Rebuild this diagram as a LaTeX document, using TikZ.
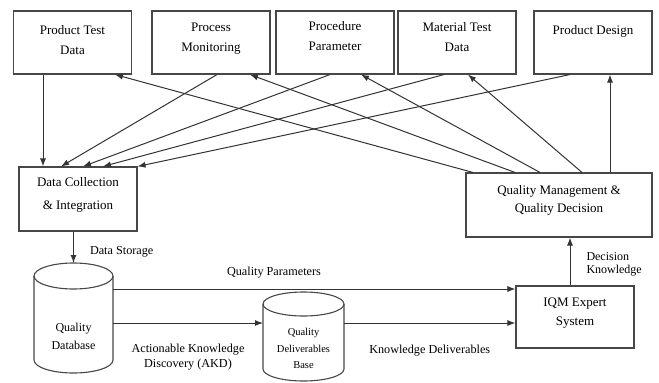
\documentclass[tikz,border=0pt]{standalone}
\usepackage{fontspec}
\setmainfont{Liberation Serif}
\usetikzlibrary{arrows.meta, positioning, calc}
\definecolor{LineGray}{rgb}{0.2, 0.2, 0.2}
\definecolor{BoxGray}{rgb}{0.28, 0.28, 0.28}

\begin{document}
\begin{tikzpicture}[x=1pt, y=-1pt, font=\fontsize{13}{20}\selectfont,
    caja/.style={draw=BoxGray, line width=1.1pt, minimum width=118pt, minimum height=63pt, inner sep=0pt},
    rotulo/.style={anchor=north, align=center, inner sep=0pt, yshift=-12pt},
    hueco/.style={inner sep=0pt, outer sep=0pt},
    borde/.style={draw=BoxGray, line width=1.1pt},
    flecha/.style={draw=LineGray, line width=1pt, -{Latex[length=8pt, width=6pt]}},
    etiqueta/.style={font=\fontsize{12.2}{15}\selectfont, inner sep=0pt, align=center}]

\useasboundingbox (0,0) rectangle (659,383);

% fila superior
\node[caja, label={[rotulo, yshift=-3pt]north:Product Test\\Data}] (ptd) at (72.5,42.5) {};
\node[caja, label={[rotulo]north:Process\\Monitoring}] (pm) at (211,42.5) {};
\node[caja, label={[rotulo, yshift=1pt]north:Procedure\\Parameter}] (pp) at (335,42.5) {};
\node[caja, label={[rotulo]north:Material Test\\Data}] (mtd) at (457,42.5) {};
\node[caja, label={[rotulo, yshift=-3pt]north:Product Design}] (pd) at (593,42.5) {};

% cajas medias
\node[caja, minimum height=64pt, label={[rotulo, yshift=1pt, font=\fontsize{13}{23}\selectfont]north:Data Collection\\\& Integration}] (dci) at (78,199) {};
\node[caja, minimum width=186pt, minimum height=64pt, label={[rotulo, yshift=-1pt, font=\fontsize{13}{18}\selectfont]north:Quality Management \&\\Quality Decision}] (qm) at (559,205) {};
\node[caja, minimum height=62pt, label={[rotulo, font=\fontsize{13}{19}\selectfont]north:IQM Expert\\System}] (iqm) at (575,317) {};

% bases
\node[hueco, minimum width=79pt, minimum height=110pt, label={[etiqueta, font=\fontsize{12}{18}\selectfont, yshift=-18pt]center:Quality\\Database}] (qdb) at (73.5,318) {};
\draw[borde] ($(qdb.north west)+(0,13)$) -- ($(qdb.south west)+(0,-13)$)
    arc[start angle=180, end angle=360, x radius=39.5pt, y radius=13pt] -- ($(qdb.north east)+(0,13)$);
\draw[borde] ($(qdb.north)+(0,13)$) ellipse[x radius=39.5pt, y radius=13pt];

\node[hueco, minimum width=81pt, minimum height=89pt, label={[etiqueta, font=\fontsize{10.5}{16.5}\selectfont, yshift=-12pt]center:Quality\\Deliverables\\Base}] (qdbase) at (303.5,336.5) {};
\draw[borde] ($(qdbase.north west)+(0,12)$) -- ($(qdbase.south west)+(0,-12)$)
    arc[start angle=180, end angle=360, x radius=40.5pt, y radius=12pt] -- ($(qdbase.north east)+(0,12)$);
\draw[borde] ($(qdbase.north)+(0,12)$) ellipse[x radius=40.5pt, y radius=12pt];

% hacia la recogida de datos
\draw[flecha] ([xshift=-29.5pt]ptd.south) -- ([xshift=-35pt]dci.north);
\draw[flecha] ([xshift=6pt]pm.south) -- ([xshift=-17pt]dci.north);
\draw[flecha] ([xshift=-5pt]pp.south) -- ([xshift=5pt]dci.north);
\draw[flecha] ([xshift=-13pt]mtd.south) -- ([xshift=25pt]dci.north);
\draw[flecha] ([xshift=-23pt]pd.south) -- (dci.north east);

% desde la decision
\draw[flecha] ([xshift=-86pt]qm.north) -- ([xshift=42.5pt]ptd.south);
\draw[flecha] ([xshift=-44pt]qm.north) -- ([xshift=39pt]pm.south);
\draw[flecha] ([xshift=-19pt]qm.north) -- ([xshift=26pt]pp.south);
\draw[flecha] ([xshift=23pt]qm.north) -- ([xshift=11pt]mtd.south);
\draw[flecha] ([xshift=51pt]qm.north) -- ([xshift=17pt]pd.south);

% parte inferior
\draw[flecha] (dci.south -| qdb.north) -- (qdb.north)
    node[etiqueta, midway, right=16pt, yshift=-4pt] {Data Storage};
\draw[flecha] ([yshift=29pt]qdb.east) -- ([yshift=29pt]qdb.east -| iqm.west)
    node[etiqueta, pos=0.4, above=10pt] {Quality Parameters};
\draw[flecha] ([yshift=-5pt]qdb.east) -- ([yshift=-5pt]qdb.east -| qdbase.west)
    node[etiqueta, midway, below=21pt] {Actionable Knowledge\\Discovery (AKD)};
\draw[flecha] ([yshift=13.5pt]qdbase.east) -- ([yshift=13.5pt]qdbase.east -| iqm.west)
    node[etiqueta, midway, below=22pt] {Knowledge Deliverables};
\draw[flecha] ([xshift=-5pt]iqm.north) -- ([xshift=-5pt]iqm.north |- qm.south)
    node[etiqueta, midway, right=16pt, yshift=-3pt, align=left, font=\fontsize{12}{13.5}\selectfont] {Decision\\Knowledge};

\end{tikzpicture}
\end{document}
